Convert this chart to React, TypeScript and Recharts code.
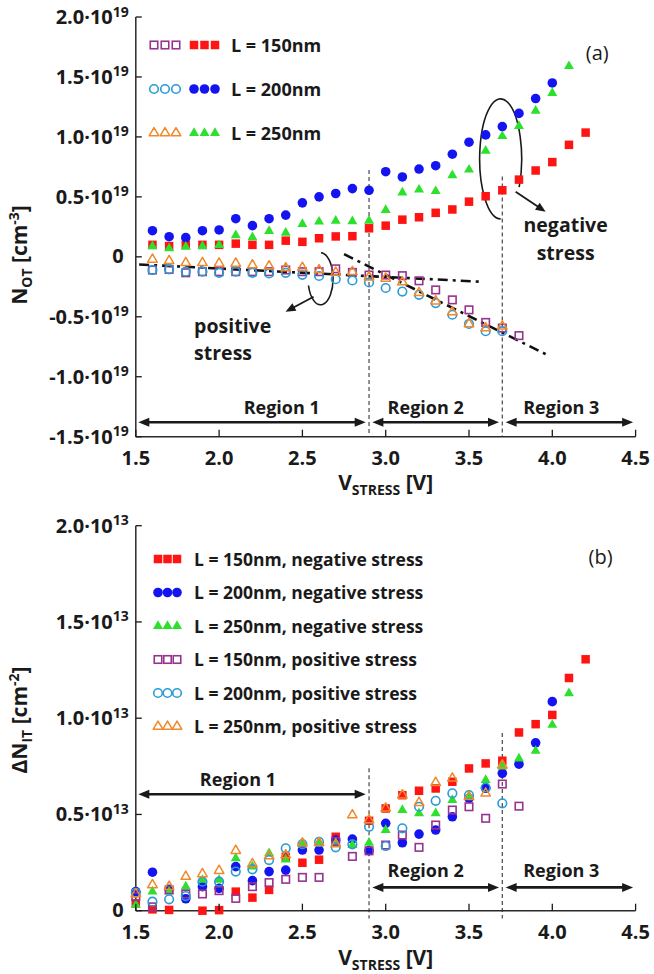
import React from 'react';
import { ScatterChart, Scatter, XAxis, YAxis, ReferenceLine, ReferenceDot } from 'recharts';

// ---------- data: panel (a)  N_OT in units of 1e19 cm^-3 ----------
const vA = [1.6, 1.7, 1.8, 1.9, 2.0, 2.1, 2.2, 2.3, 2.4, 2.5, 2.6, 2.7, 2.8, 2.9, 3.0, 3.1, 3.2, 3.3, 3.4, 3.5, 3.6, 3.7, 3.8, 3.9, 4.0, 4.1, 4.2];
const aNeg150 = [0.10, 0.09, 0.10, 0.10, 0.10, 0.11, 0.10, 0.10, 0.135, 0.125, 0.155, 0.17, 0.172, 0.238, 0.26, 0.31, 0.33, 0.367, 0.395, 0.46, 0.505, 0.555, 0.644, 0.72, 0.79, 0.934, 1.036];
const aNeg200 = [0.218, 0.168, 0.16, 0.218, 0.224, 0.318, 0.26, 0.318, 0.348, 0.45, 0.50, 0.528, 0.569, 0.555, 0.71, 0.666, 0.732, 0.76, 0.856, 0.956, 1.017, 1.086, 1.196, 1.32, 1.45, null, null];
const aNeg250 = [0.088, 0.07, 0.083, 0.088, 0.097, 0.18, 0.163, 0.215, 0.2, 0.273, 0.293, 0.30, 0.296, 0.30, 0.39, 0.536, 0.56, 0.547, 0.68, 0.727, 0.884, 1.006, 1.09, 1.218, 1.365, 1.59, null];
const aPos150 = [-0.11, -0.105, -0.133, -0.124, -0.124, -0.124, -0.124, -0.124, -0.11, -0.124, -0.124, -0.1, -0.13, -0.152, -0.152, -0.157, -0.2, -0.276, -0.359, -0.442, -0.547, -0.594, -0.657, null, null, null, null];
const aPos200 = [-0.11, -0.105, -0.124, -0.124, -0.133, -0.124, -0.133, -0.138, -0.133, -0.15, -0.16, -0.186, -0.197, -0.214, -0.26, -0.29, -0.317, -0.386, -0.483, -0.56, -0.62, -0.62, null, null, null, null, null];
const aPos250 = [-0.022, -0.033, -0.05, -0.05, -0.055, -0.055, -0.069, -0.077, -0.094, -0.09, -0.11, -0.13, -0.125, -0.17, -0.18, -0.21, -0.3, -0.37, -0.46, -0.56, -0.594, -0.58, null, null, null, null, null];

// ---------- data: panel (b)  dN_IT in units of 1e13 cm^-2 ----------
const vB = [1.5, 1.6, 1.7, 1.8, 1.9, 2.0, 2.1, 2.2, 2.3, 2.4, 2.5, 2.6, 2.7, 2.8, 2.9, 3.0, 3.1, 3.2, 3.3, 3.4, 3.5, 3.6, 3.7, 3.8, 3.9, 4.0, 4.1, 4.2];
const bNeg150 = [0.038, 0.007, 0.004, null, 0.0, 0.003, 0.099, 0.068, 0.108, 0.28, 0.249, 0.265, 0.384, null, 0.467, 0.531, 0.60, 0.623, 0.635, 0.67, 0.739, 0.765, 0.779, 0.926, 0.969, 1.017, 1.209, 1.306];
const bNeg200 = [0.099, 0.2, 0.111, 0.062, 0.125, 0.116, 0.229, 0.156, 0.203, 0.211, 0.315, 0.315, 0.367, 0.372, 0.312, 0.454, 0.353, 0.398, 0.419, 0.488, 0.584, 0.636, 0.714, 0.761, 0.872, 1.086, null, null];
const bNeg250 = [0.03, 0.099, 0.10, 0.125, 0.16, 0.16, 0.272, 0.229, 0.298, 0.266, 0.353, 0.35, 0.35, 0.341, 0.353, 0.419, 0.523, 0.506, 0.506, 0.575, 0.592, 0.679, 0.748, 0.79, 0.83, 0.965, 1.129, null];
const bPos150 = [0.073, 0.02, 0.108, 0.087, 0.087, 0.104, 0.064, 0.125, 0.146, 0.163, 0.173, 0.173, 0.36, 0.282, 0.311, 0.341, 0.393, 0.329, 0.445, 0.523, 0.54, 0.48, 0.658, 0.543, null, null, null, null];
const bPos200 = [0.093, 0.047, 0.059, 0.076, 0.151, 0.151, 0.203, 0.215, 0.263, 0.324, 0.346, 0.358, 0.329, 0.345, 0.436, 0.336, 0.428, 0.54, 0.571, 0.61, 0.601, 0.64, 0.558, null, null, null, null, null];
const bPos250 = [0.087, 0.134, 0.125, 0.177, 0.191, 0.208, 0.312, 0.243, 0.284, 0.289, 0.35, 0.353, 0.346, 0.497, 0.471, 0.532, 0.60, 0.561, 0.665, 0.688, 0.592, 0.61, 0.756, null, null, null, null, null];

// ---------- ticks / labels ----------
const xTicks = [1.5, 2.0, 2.5, 3.0, 3.5, 4.0, 4.5];
const yTicksA = [-1.5, -1.0, -0.5, 0, 0.5, 1.0, 1.5, 2.0];
const yTicksB = [0, 0.5, 1.0, 1.5, 2.0];
const legendA = ['L = 150nm', 'L = 200nm', 'L = 250nm'];
const legendB = [
  'L = 150nm, negative stress',
  'L = 200nm, negative stress',
  'L = 250nm, negative stress',
  'L = 150nm, positive stress',
  'L = 200nm, positive stress',
  'L = 250nm, positive stress',
];

// ---------- styles ----------
const FONT = '"Open Sans", "Liberation Sans", sans-serif';
const INK = '#1a1a1a';
const C_RED = '#ff1414';
const C_BLUE = '#1414f0';
const C_GREEN = '#2ee02e';
const C_PURPLE = '#97338f';
const C_SKY = '#2b9bd6';
const C_ORANGE = '#f0892a';
const AXIS = { stroke: '#2a2a2a', strokeWidth: 1.5 };

type Pt = { x: number; y: number };
const zip = (xs: number[], ys: (number | null)[]): Pt[] =>
  xs.map((x, i) => ({ x, y: ys[i] as number })).filter((p) => p.y !== null && p.y !== undefined);

function Marker({ cx, cy, kind, color, open }: any) {
  if (cx == null || cy == null || isNaN(cx) || isNaN(cy)) return null;
  if (kind === 'square') {
    const s = open ? 7.5 : 8.5;
    return <rect x={cx - s / 2} y={cy - s / 2} width={s} height={s} fill={open ? 'none' : color} stroke={open ? color : 'none'} strokeWidth={1.6} />;
  }
  if (kind === 'circle') {
    const r = open ? 4.3 : 4.8;
    return <circle cx={cx} cy={cy} r={r} fill={open ? 'none' : color} stroke={open ? color : 'none'} strokeWidth={1.6} />;
  }
  const s = open ? 9.5 : 10;
  const h = s * 0.866;
  const pts = `${cx},${cy - (h * 2) / 3} ${cx - s / 2},${cy + h / 3} ${cx + s / 2},${cy + h / 3}`;
  return <polygon points={pts} fill={open ? 'none' : color} stroke={open ? color : 'none'} strokeWidth={1.5} strokeLinejoin="round" />;
}
const mk = (kind: string, color: string, open: boolean) => (p: any) => <Marker cx={p.cx} cy={p.cy} kind={kind} color={color} open={open} />;

const fmt = (v: number) => v.toFixed(1);

const makeLeftTick = (exp: string) => (props: any) => {
  const { x, y, payload } = props;
  const v = payload.value;
  return (
    <g>
      <line x1={x} y1={y} x2={x + 6} y2={y} stroke={INK} strokeWidth={1.3} />
      {v === 0 ? (
        <text x={x - 12} y={y + 6} textAnchor="end" fontFamily={FONT} fontWeight={700} fontSize={20} fill={INK}>0</text>
      ) : (
        <text x={x - 7} y={y + 7} textAnchor="end" fontFamily={FONT} fontWeight={700} fontSize={20} fill={INK}>
          {fmt(v) + '·10'}
          <tspan dy={-7.5} fontSize={14}>{exp}</tspan>
        </text>
      )}
    </g>
  );
};
const RightTick = (props: any) => {
  const { x, y } = props;
  return <line x1={x} y1={y} x2={x - 7} y2={y} stroke={INK} strokeWidth={1.3} />;
};
const TopTick = (props: any) => {
  const { x, y } = props;
  return <line x1={x} y1={y} x2={x} y2={y + 7} stroke={INK} strokeWidth={1.3} />;
};
const BottomTick = (props: any) => {
  const { x, y, payload } = props;
  return (
    <g>
      <line x1={x} y1={y} x2={x} y2={y - 7} stroke={INK} strokeWidth={1.3} />
      <text x={x} y={y + 28} textAnchor="middle" fontFamily={FONT} fontWeight={700} fontSize={20} fill={INK}>{fmt(payload.value)}</text>
    </g>
  );
};

const xTitle = (dy: number) => (p: any) => {
  const vb = p.viewBox || {};
  const cx = vb.x + vb.width / 2;
  const cy = vb.y + dy;
  return (
    <text x={cx} y={cy} textAnchor="middle" fontFamily={FONT} fontWeight={700} fontSize={21} fill={INK}>
      V<tspan dy={5} fontSize={14}>STRESS</tspan>
      <tspan dy={-5}> [V]</tspan>
    </text>
  );
};
const yTitle = (cy: number, main: string, sub: string, sup: string) => () => {
  const cx = 20;
  return (
    <text x={cx} y={cy + 7} transform={`rotate(-90, ${cx}, ${cy})`} textAnchor="middle" fontFamily={FONT} fontWeight={700} fontSize={21} fill={INK}>
      {main}
      <tspan dy={5} fontSize={14}>{sub}</tspan>
      <tspan dy={-5}> [cm</tspan>
      <tspan dy={-8} fontSize={14}>{sup}</tspan>
      <tspan dy={8}>]</tspan>
    </text>
  );
};

function head(x1: number, y1: number, x2: number, y2: number, len = 10, hw = 4.2) {
  const dx = x2 - x1, dy = y2 - y1, L = Math.hypot(dx, dy) || 1;
  const ux = dx / L, uy = dy / L;
  const bx = x2 - ux * len, by = y2 - uy * len;
  return `${x2},${y2} ${bx - uy * hw},${by + ux * hw} ${bx + uy * hw},${by - ux * hw}`;
}

const DoubleArrow = (p: any) => {
  const { x1, y1, x2, y2 } = p;
  return (
    <g>
      <line x1={x1 + 5} y1={y1} x2={x2 - 5} y2={y2} stroke={INK} strokeWidth={2.6} />
      <polygon points={head(x2, y2, x1, y1, 11, 4.5)} fill={INK} />
      <polygon points={head(x1, y1, x2, y2, 11, 4.5)} fill={INK} />
    </g>
  );
};

const textShape = (s: string, opts: any = {}) => (p: any) => (
  <text x={p.cx} y={p.cy + 7} textAnchor={opts.anchor || 'middle'} fontFamily={FONT} fontWeight={opts.weight ?? 700} fontSize={opts.size || 18} fill={INK}>{s}</text>
);

const loopShape = (rx: number, ry: number, a0: number, a1: number, large: number, arrow: number[]) => (p: any) => {
  const { cx, cy } = p;
  const pt = (d: number) => [cx + rx * Math.cos((d * Math.PI) / 180), cy + ry * Math.sin((d * Math.PI) / 180)];
  const [sx, sy] = pt(a0);
  const [ex, ey] = pt(a1);
  const [ax0, ay0, ax1, ay1] = [cx + arrow[0], cy + arrow[1], cx + arrow[2], cy + arrow[3]];
  return (
    <g>
      <path d={`M${sx},${sy} A${rx},${ry} 0 ${large} 1 ${ex},${ey}`} fill="none" stroke={INK} strokeWidth={1.6} />
      <line x1={ax0} y1={ay0} x2={ax1 - (ax1 - ax0) * 0.15} y2={ay1 - (ay1 - ay0) * 0.15} stroke={INK} strokeWidth={1.8} />
      <polygon points={head(ax0, ay0, ax1, ay1, 10, 4.2)} fill={INK} />
    </g>
  );
};

const DASH_V = { stroke: '#555', strokeWidth: 1.3, strokeDasharray: '4 3' };
const DASH_DOT = { stroke: '#111', strokeWidth: 2.6, strokeDasharray: '10 5 3 5' };

function ChartA() {
  return (
    <ScatterChart width={654} height={500} margin={{ top: 17, right: 18.4, bottom: 23.3, left: 0 }}>
      <XAxis xAxisId={0} type="number" dataKey="x" domain={[1.5, 4.5]} ticks={xTicks} interval={0} height={40}
        tickLine={false} tickSize={0} tickMargin={0} axisLine={AXIS} tick={BottomTick} label={xTitle(53)} />
      <XAxis xAxisId="top" orientation="top" type="number" domain={[1.5, 4.5]} ticks={xTicks} interval={0} height={0}
        tickLine={false} tickSize={0} tickMargin={0} axisLine={AXIS} tick={TopTick} />
      <YAxis yAxisId={0} type="number" dataKey="y" domain={[-1.5, 2]} ticks={yTicksA} interval={0} width={135.8}
        tickLine={false} tickSize={0} tickMargin={0} axisLine={AXIS} tick={makeLeftTick('19')} label={yTitle(255, 'N', 'OT', '-3')} />
      <YAxis yAxisId="right" orientation="right" type="number" domain={[-1.5, 2]} ticks={yTicksA} interval={0} width={0}
        tickLine={false} tickSize={0} tickMargin={0} axisLine={AXIS} tick={RightTick} />

      <ReferenceLine segment={[{ x: 2.9, y: 0.725 }, { x: 2.9, y: -1.5 }]} {...DASH_V} ifOverflow="visible" />
      <ReferenceLine segment={[{ x: 3.7, y: 0.67 }, { x: 3.7, y: -1.5 }]} {...DASH_V} ifOverflow="visible" />
      <ReferenceLine segment={[{ x: 1.52, y: -0.064 }, { x: 3.56, y: -0.207 }]} {...DASH_DOT} ifOverflow="visible" />
      <ReferenceLine segment={[{ x: 2.75, y: 0.022 }, { x: 3.977, y: -0.823 }]} {...DASH_DOT} ifOverflow="visible" />

      <ReferenceLine segment={[{ x: 1.515, y: -1.379 }, { x: 2.88, y: -1.379 }]} shape={DoubleArrow} ifOverflow="visible" />
      <ReferenceLine segment={[{ x: 2.92, y: -1.379 }, { x: 3.68, y: -1.379 }]} shape={DoubleArrow} ifOverflow="visible" />
      <ReferenceLine segment={[{ x: 3.72, y: -1.379 }, { x: 4.485, y: -1.379 }]} shape={DoubleArrow} ifOverflow="visible" />
      <ReferenceDot x={2.376} y={-1.25} r={0} shape={textShape('Region 1')} ifOverflow="visible" />
      <ReferenceDot x={3.24} y={-1.25} r={0} shape={textShape('Region 2')} ifOverflow="visible" />
      <ReferenceDot x={4.054} y={-1.25} r={0} shape={textShape('Region 3')} ifOverflow="visible" />

      <ReferenceDot x={4.27} y={1.7} r={0} shape={textShape('(a)', { weight: 400, size: 20 })} ifOverflow="visible" />
      <ReferenceDot x={4.08} y={0.267} r={0} shape={textShape('negative', { size: 19.5 })} ifOverflow="visible" />
      <ReferenceDot x={4.08} y={0.033} r={0} shape={textShape('stress', { size: 19.5 })} ifOverflow="visible" />
      <ReferenceDot x={1.85} y={-0.58} r={0} shape={textShape('positive', { size: 19.5, anchor: 'start' })} ifOverflow="visible" />
      <ReferenceDot x={1.85} y={-0.8} r={0} shape={textShape('stress', { size: 19.5, anchor: 'start' })} ifOverflow="visible" />
      <ReferenceDot x={3.69} y={0.817} r={0} shape={loopShape(21, 60, 90, 28, 1, [15, 33, 45, 53])} ifOverflow="visible" />
      <ReferenceDot x={2.609} y={-0.183} r={0} shape={loopShape(12.5, 26, 272, 165, 1, [-7, 18, -35, 33])} ifOverflow="visible" />

      <Scatter data={zip(vA, aNeg150)} shape={mk('square', C_RED, false)} isAnimationActive={false} />
      <Scatter data={zip(vA, aNeg200)} shape={mk('circle', C_BLUE, false)} isAnimationActive={false} />
      <Scatter data={zip(vA, aNeg250)} shape={mk('triangle', C_GREEN, false)} isAnimationActive={false} />
      <Scatter data={zip(vA, aPos150)} shape={mk('square', C_PURPLE, true)} isAnimationActive={false} />
      <Scatter data={zip(vA, aPos200)} shape={mk('circle', C_SKY, true)} isAnimationActive={false} />
      <Scatter data={zip(vA, aPos250)} shape={mk('triangle', C_ORANGE, true)} isAnimationActive={false} />
    </ScatterChart>
  );
}

function ChartB() {
  return (
    <ScatterChart width={654} height={484} margin={{ top: 35.7, right: 18.4, bottom: 23.3, left: 0 }}>
      <XAxis xAxisId={0} type="number" dataKey="x" domain={[1.5, 4.5]} ticks={xTicks} interval={0} height={40}
        tickLine={false} tickSize={0} tickMargin={0} axisLine={AXIS} tick={BottomTick} label={xTitle(54)} />
      <XAxis xAxisId="top" orientation="top" type="number" domain={[1.5, 4.5]} ticks={xTicks} interval={0} height={0}
        tickLine={false} tickSize={0} tickMargin={0} axisLine={AXIS} tick={TopTick} />
      <YAxis yAxisId={0} type="number" dataKey="y" domain={[0, 2]} ticks={yTicksB} interval={0} width={135.8}
        tickLine={false} tickSize={0} tickMargin={0} axisLine={AXIS} tick={makeLeftTick('13')} label={yTitle(230, 'ΔN', 'IT', '-2')} />
      <YAxis yAxisId="right" orientation="right" type="number" domain={[0, 2]} ticks={yTicksB} interval={0} width={0}
        tickLine={false} tickSize={0} tickMargin={0} axisLine={AXIS} tick={RightTick} />

      <ReferenceLine segment={[{ x: 2.9, y: 0.74 }, { x: 2.9, y: -0.04 }]} {...DASH_V} ifOverflow="visible" />
      <ReferenceLine segment={[{ x: 3.7, y: 0.923 }, { x: 3.7, y: -0.04 }]} {...DASH_V} ifOverflow="visible" />

      <ReferenceLine segment={[{ x: 1.515, y: 0.605 }, { x: 2.88, y: 0.605 }]} shape={DoubleArrow} ifOverflow="visible" />
      <ReferenceLine segment={[{ x: 2.92, y: 0.121 }, { x: 3.68, y: 0.121 }]} shape={DoubleArrow} ifOverflow="visible" />
      <ReferenceLine segment={[{ x: 3.72, y: 0.121 }, { x: 4.485, y: 0.121 }]} shape={DoubleArrow} ifOverflow="visible" />
      <ReferenceDot x={2.113} y={0.684} r={0} shape={textShape('Region 1')} ifOverflow="visible" />
      <ReferenceDot x={3.24} y={0.211} r={0} shape={textShape('Region 2')} ifOverflow="visible" />
      <ReferenceDot x={4.054} y={0.211} r={0} shape={textShape('Region 3')} ifOverflow="visible" />
      <ReferenceDot x={4.29} y={1.84} r={0} shape={textShape('(b)', { weight: 400, size: 20 })} ifOverflow="visible" />

      <Scatter data={zip(vB, bNeg150)} shape={mk('square', C_RED, false)} isAnimationActive={false} />
      <Scatter data={zip(vB, bNeg200)} shape={mk('circle', C_BLUE, false)} isAnimationActive={false} />
      <Scatter data={zip(vB, bNeg250)} shape={mk('triangle', C_GREEN, false)} isAnimationActive={false} />
      <Scatter data={zip(vB, bPos150)} shape={mk('square', C_PURPLE, true)} isAnimationActive={false} />
      <Scatter data={zip(vB, bPos200)} shape={mk('circle', C_SKY, true)} isAnimationActive={false} />
      <Scatter data={zip(vB, bPos250)} shape={mk('triangle', C_ORANGE, true)} isAnimationActive={false} />
    </ScatterChart>
  );
}

function Triple({ xs, y, kind, color, open }: any) {
  return <g>{xs.map((x: number, i: number) => <Marker key={i} cx={x} cy={y} kind={kind} color={color} open={open} />)}</g>;
}

function LegendA() {
  const kinds = ['square', 'circle', 'triangle'];
  const opens = [C_PURPLE, C_SKY, C_ORANGE];
  const fills = [C_RED, C_BLUE, C_GREEN];
  const rows = [45, 89, 133];
  return (
    <svg width={654} height={200} style={{ position: 'absolute', left: 0, top: 0, pointerEvents: 'none' }}>
      {legendA.map((t, i) => (
        <g key={i}>
          <Triple xs={[154, 165, 176]} y={rows[i]} kind={kinds[i]} color={opens[i]} open={true} />
          <Triple xs={[194, 204.5, 215]} y={rows[i]} kind={kinds[i]} color={fills[i]} open={false} />
          <text x={231} y={rows[i] + 6.5} fontFamily={FONT} fontWeight={700} fontSize={18} fill={INK}>{t}</text>
        </g>
      ))}
    </svg>
  );
}

function LegendB() {
  const kinds = ['square', 'circle', 'triangle', 'square', 'circle', 'triangle'];
  const colors = [C_RED, C_BLUE, C_GREEN, C_PURPLE, C_SKY, C_ORANGE];
  const opens = [false, false, false, true, true, true];
  const rows = [559, 592.5, 626, 659.5, 693, 726.5];
  return (
    <svg width={654} height={974} style={{ position: 'absolute', left: 0, top: 0, pointerEvents: 'none' }}>
      {legendB.map((t, i) => (
        <g key={i}>
          <Triple xs={[158, 167.5, 177]} y={rows[i]} kind={kinds[i]} color={colors[i]} open={opens[i]} />
          <text x={194} y={rows[i] + 6.5} fontFamily={FONT} fontWeight={700} fontSize={17.5} fill={INK}>{t}</text>
        </g>
      ))}
    </svg>
  );
}

export default function App() {
  return (
    <div style={{ position: 'absolute', left: 0, top: 0, width: 654, height: 974, background: '#fff', overflow: 'hidden' }}>
      <div style={{ position: 'absolute', left: 0, top: 0 }}>
        <ChartA />
      </div>
      <div style={{ position: 'absolute', left: 0, top: 490 }}>
        <ChartB />
      </div>
      <LegendA />
      <LegendB />
    </div>
  );
}
